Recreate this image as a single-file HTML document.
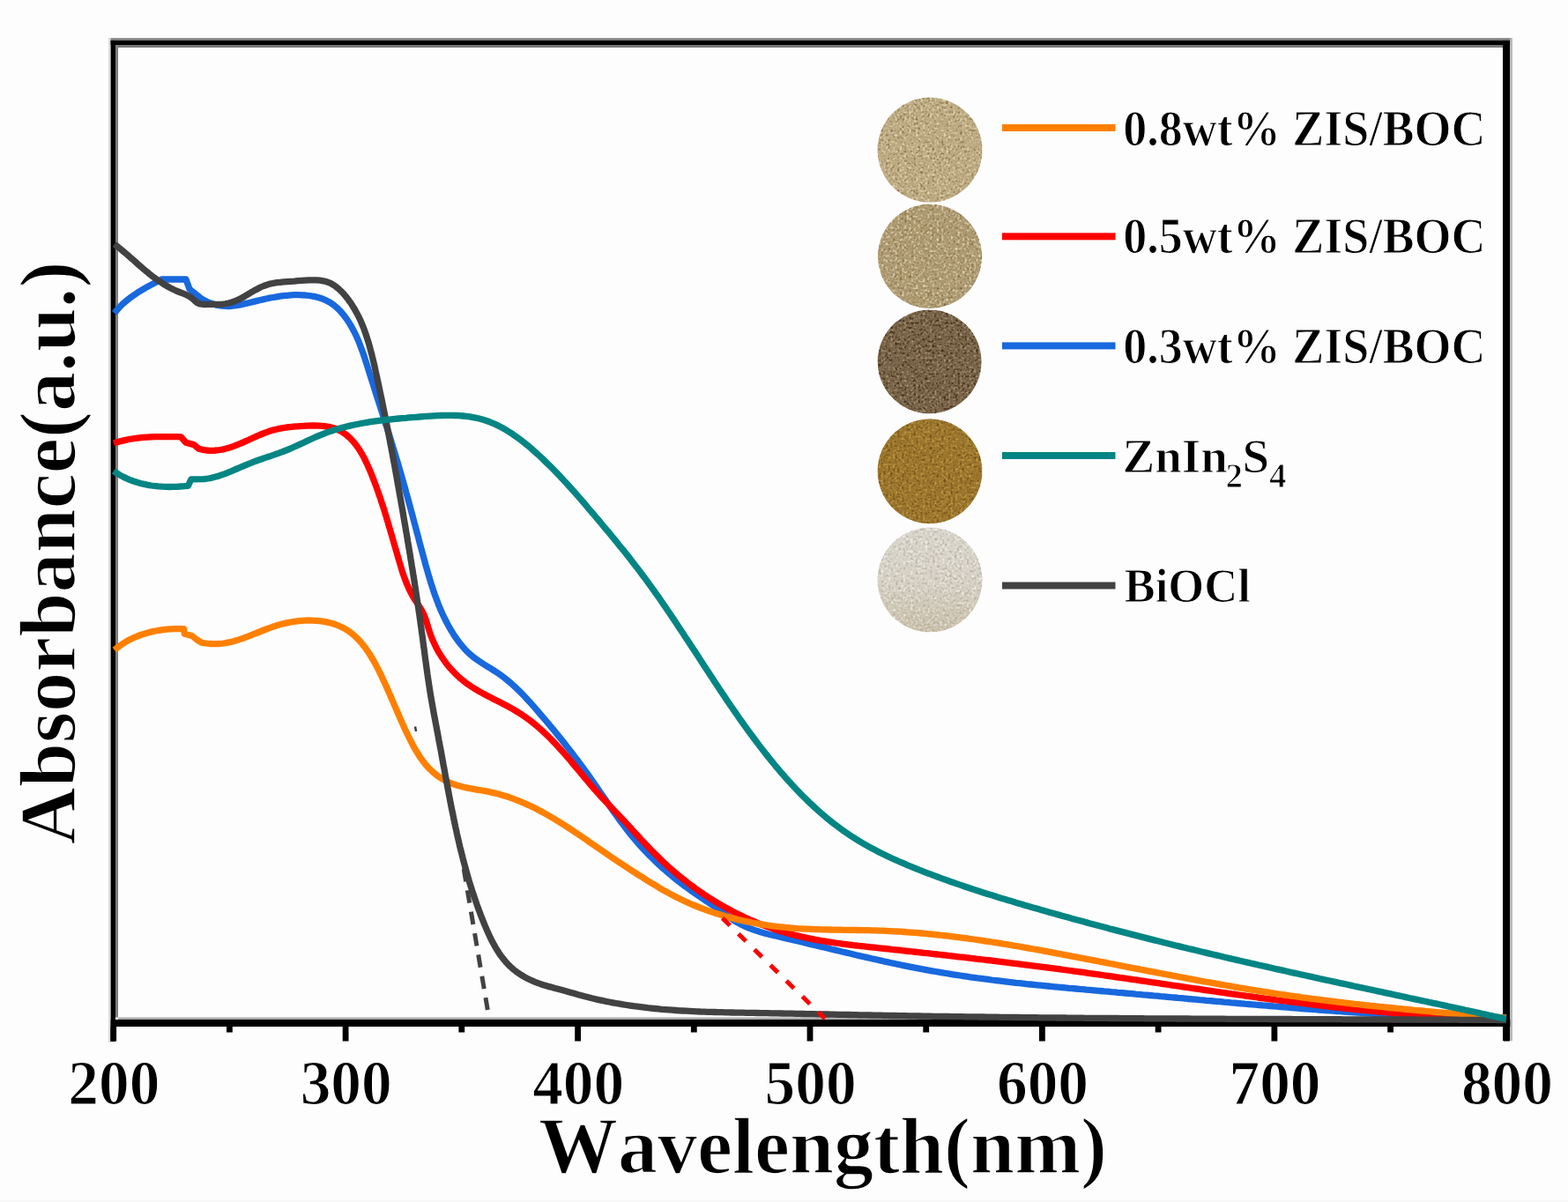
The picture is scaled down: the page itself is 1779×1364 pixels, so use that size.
<!DOCTYPE html>
<html><head><meta charset="utf-8"><title>Absorbance spectra</title>
<style>
html,body{margin:0;padding:0;background:#fdfdfd;}
body{width:1779px;height:1364px;overflow:hidden;}
svg{display:block;}
text{font-family:"Liberation Serif","Times New Roman",serif;font-weight:bold;fill:#000;font-kerning:none;stroke:#fdfdfd;paint-order:fill;}
.t1{stroke-width:1.6px;} .t2{stroke-width:1.1px;} .t3{stroke-width:1.2px;}
</style></head><body>
<svg xmlns="http://www.w3.org/2000/svg" width="1779" height="1364" viewBox="0 0 1779 1364">
<defs>
<filter id="spk1" x="0" y="0" width="100%" height="100%" color-interpolation-filters="sRGB">
<feTurbulence type="fractalNoise" baseFrequency="0.38" numOctaves="1" seed="7" result="t"/>
<feColorMatrix in="t" type="matrix" values="0 0 0 0 0.5  0 0 0 0 0.4  0 0 0 0 0.22  3.0 0 0 0 -1.5" result="dk"/>
<feColorMatrix in="t" type="matrix" values="0 0 0 0 0.93  0 0 0 0 0.88  0 0 0 0 0.76  0 -3.0 0 0 1.5" result="lt"/>
<feMerge result="m"><feMergeNode in="SourceGraphic"/><feMergeNode in="dk"/><feMergeNode in="lt"/></feMerge>
<feComposite in="m" in2="SourceAlpha" operator="in"/>
</filter>
<filter id="spk2" x="0" y="0" width="100%" height="100%" color-interpolation-filters="sRGB">
<feTurbulence type="fractalNoise" baseFrequency="0.38" numOctaves="1" seed="11" result="t"/>
<feColorMatrix in="t" type="matrix" values="0 0 0 0 0.22  0 0 0 0 0.15  0 0 0 0 0.08  3.2 0 0 0 -1.55" result="dk"/>
<feColorMatrix in="t" type="matrix" values="0 0 0 0 0.7  0 0 0 0 0.62  0 0 0 0 0.48  0 -3.2 0 0 1.55" result="lt"/>
<feMerge result="m"><feMergeNode in="SourceGraphic"/><feMergeNode in="dk"/><feMergeNode in="lt"/></feMerge>
<feComposite in="m" in2="SourceAlpha" operator="in"/>
</filter>
<filter id="spk4" x="0" y="0" width="100%" height="100%" color-interpolation-filters="sRGB">
<feTurbulence type="fractalNoise" baseFrequency="0.38" numOctaves="1" seed="13" result="t"/>
<feColorMatrix in="t" type="matrix" values="0 0 0 0 0.4  0 0 0 0 0.27  0 0 0 0 0.06  3.0 0 0 0 -1.5" result="dk"/>
<feColorMatrix in="t" type="matrix" values="0 0 0 0 0.8  0 0 0 0 0.63  0 0 0 0 0.3  0 -3.0 0 0 1.5" result="lt"/>
<feMerge result="m"><feMergeNode in="SourceGraphic"/><feMergeNode in="dk"/><feMergeNode in="lt"/></feMerge>
<feComposite in="m" in2="SourceAlpha" operator="in"/>
</filter>
<filter id="spk3" x="0" y="0" width="100%" height="100%" color-interpolation-filters="sRGB">
<feTurbulence type="fractalNoise" baseFrequency="0.36" numOctaves="1" seed="5" result="t"/>
<feColorMatrix in="t" type="matrix" values="0 0 0 0 0.62  0 0 0 0 0.58  0 0 0 0 0.5  2.0 0 0 0 -1.0" result="dk"/>
<feColorMatrix in="t" type="matrix" values="0 0 0 0 1  0 0 0 0 1  0 0 0 0 0.98  0 -2.2 0 0 1.08" result="lt"/>
<feMerge result="m"><feMergeNode in="SourceGraphic"/><feMergeNode in="dk"/><feMergeNode in="lt"/></feMerge>
<feComposite in="m" in2="SourceAlpha" operator="in"/>
</filter>
<linearGradient id="boclg" x1="0" y1="0" x2="0" y2="1">
<stop offset="0" stop-color="#d9d6cd"/><stop offset="0.55" stop-color="#d6d1c5"/><stop offset="1" stop-color="#c9bfa9"/>
</linearGradient>
</defs>
<rect x="0" y="0" width="1779" height="1364" fill="#fdfdfd"/>
<rect x="0" y="1362" width="1779" height="2" fill="#f8f8f8"/>

<circle cx="1055" cy="170.2" r="59.6" fill="#bdab83" filter="url(#spk1)"/>
<circle cx="1055" cy="290.8" r="59.2" fill="#ad9a72" filter="url(#spk1)"/>
<circle cx="1054.6" cy="410.4" r="59" fill="#7a654a" filter="url(#spk2)"/>
<circle cx="1055" cy="534.7" r="59.5" fill="#9a762d" filter="url(#spk4)"/>
<circle cx="1055" cy="658" r="59.6" fill="url(#boclg)" filter="url(#spk3)"/>
<rect x="125.6" y="45.9" width="1583" height="1115" fill="none" stroke="none"/>
<rect x="123" y="43.2" width="1593" height="2.7" fill="#808080"/>
<rect x="122.9" y="43.2" width="2.7" height="1140" fill="#dedede"/>
<rect x="125.6" y="45.9" width="1587.7" height="5.1" fill="#000"/>
<rect x="131" y="51" width="1574" height="3" fill="#777"/>
<rect x="125.6" y="45.9" width="5.4" height="1136" fill="#000"/>
<rect x="131" y="51" width="3" height="1103.5" fill="#808080"/>
<rect x="1705" y="45.9" width="8.3" height="1135" fill="#000"/>
<rect x="1713.3" y="43.2" width="2.7" height="1138" fill="#bbb"/>
<rect x="134" y="1154.5" width="1571" height="2.5" fill="#aaa"/>
<rect x="125.6" y="1157" width="1587.7" height="8" fill="#000"/>
<rect x="125.3" y="1165" width="6.8" height="16.5" fill="#000"/>
<rect x="257.0" y="1165" width="6.8" height="6.5" fill="#000"/>
<rect x="388.7" y="1165" width="6.8" height="16.5" fill="#000"/>
<rect x="520.4" y="1165" width="6.8" height="6.5" fill="#000"/>
<rect x="652.2" y="1165" width="6.8" height="16.5" fill="#000"/>
<rect x="783.9" y="1165" width="6.8" height="6.5" fill="#000"/>
<rect x="915.6" y="1165" width="6.8" height="16.5" fill="#000"/>
<rect x="1047.3" y="1165" width="6.8" height="6.5" fill="#000"/>
<rect x="1179.0" y="1165" width="6.8" height="16.5" fill="#000"/>
<rect x="1310.7" y="1165" width="6.8" height="6.5" fill="#000"/>
<rect x="1442.5" y="1165" width="6.8" height="16.5" fill="#000"/>
<rect x="1574.2" y="1165" width="6.8" height="6.5" fill="#000"/>
<rect x="1705.9" y="1165" width="6.8" height="16.5" fill="#000"/>
<path d="M129.8,355.3 L132.7,351.8 L135.7,348.5 L138.8,345.3 L142.1,342.4 L145.5,339.6 L149.0,336.9 L152.6,334.4 L156.3,331.9 L160.1,329.6 L163.9,327.4 L167.7,325.2 L171.6,323.1 L175.6,321.0 L179.5,319.0 L183.5,317.0 L211.0,317.0 L215.0,328.0 L229.0,339.3 L232.8,341.4 L236.6,343.2 L240.5,344.6 L244.3,345.8 L248.2,346.6 L252.1,347.2 L256.0,347.4 L259.9,347.5 L263.7,347.2 L267.6,346.7 L271.4,346.1 L275.3,345.3 L279.1,344.4 L282.9,343.5 L286.7,342.6 L290.6,341.6 L294.4,340.7 L298.2,339.9 L302.0,339.0 L305.9,338.2 L309.8,337.5 L313.8,336.8 L317.7,336.2 L321.7,335.7 L325.8,335.3 L329.9,334.9 L334.1,334.7 L338.3,334.7 L342.5,334.8 L346.6,335.0 L350.7,335.5 L354.8,336.1 L358.8,336.9 L362.6,338.0 L366.4,339.3 L370.0,340.9 L373.5,342.7 L376.8,344.8 L379.9,347.1 L382.8,349.7 L385.6,352.5 L388.3,355.5 L390.8,358.6 L393.1,361.8 L395.3,365.1 L397.4,368.4 L399.4,371.9 L401.3,375.4 L403.1,378.9 L404.8,382.6 L406.4,386.2 L407.9,389.9 L409.3,393.7 L410.7,397.4 L412.1,401.2 L413.4,405.0 L414.6,408.9 L415.9,412.7 L417.1,416.6 L418.3,420.5 L419.5,424.3 L420.7,428.2 L421.9,432.0 L423.2,435.9 L424.4,439.7 L425.6,443.6 L426.8,447.4 L428.1,451.2 L429.3,455.1 L430.5,458.9 L431.7,462.7 L433.0,466.5 L434.2,470.4 L435.4,474.2 L436.6,478.0 L437.8,481.8 L439.1,485.6 L440.3,489.4 L441.5,493.2 L442.7,497.1 L443.9,500.9 L445.0,504.7 L446.2,508.5 L447.4,512.3 L448.6,516.2 L449.7,520.0 L450.9,523.8 L452.0,527.6 L453.1,531.5 L454.2,535.3 L455.3,539.1 L456.4,543.0 L457.5,546.8 L458.6,550.7 L459.7,554.5 L460.7,558.4 L461.8,562.2 L462.9,566.1 L463.9,570.0 L464.9,573.8 L466.0,577.7 L467.0,581.6 L468.1,585.4 L469.1,589.3 L470.1,593.2 L471.2,597.1 L472.2,601.0 L473.2,604.8 L474.3,608.7 L475.3,612.6 L476.3,616.5 L477.4,620.4 L478.4,624.3 L479.5,628.2 L480.5,632.1 L481.6,636.0 L482.6,639.9 L483.7,643.8 L484.8,647.6 L485.9,651.5 L487.1,655.4 L488.2,659.2 L489.4,663.1 L490.7,666.9 L491.9,670.7 L493.2,674.5 L494.6,678.3 L496.0,682.1 L497.4,685.8 L498.9,689.5 L500.5,693.2 L502.1,696.8 L503.8,700.4 L505.6,704.0 L507.4,707.5 L509.3,711.0 L511.3,714.5 L513.4,717.9 L515.5,721.3 L517.8,724.6 L520.1,727.8 L522.5,730.9 L525.1,734.0 L527.7,737.0 L530.5,739.8 L533.4,742.5 L536.4,745.1 L539.6,747.5 L542.9,749.8 L546.2,752.0 L549.6,754.2 L553.0,756.3 L556.5,758.4 L559.9,760.6 L563.3,762.8 L566.6,765.0 L569.9,767.4 L573.1,769.8 L576.2,772.3 L579.3,774.9 L582.2,777.6 L585.2,780.3 L588.1,783.1 L590.9,785.9 L593.7,788.8 L596.5,791.7 L599.2,794.7 L601.9,797.6 L604.6,800.7 L607.2,803.7 L609.9,806.7 L612.5,809.8 L615.1,812.8 L617.7,815.9 L620.3,819.0 L622.9,822.0 L625.4,825.1 L628.0,828.2 L630.5,831.3 L633.1,834.4 L635.6,837.5 L638.1,840.6 L640.6,843.8 L643.0,846.9 L645.5,850.1 L648.0,853.2 L650.4,856.4 L652.8,859.6 L655.2,862.8 L657.6,866.0 L660.0,869.2 L662.4,872.5 L664.7,875.7 L667.1,879.0 L669.4,882.2 L671.7,885.5 L674.0,888.8 L676.3,892.1 L678.6,895.4 L680.8,898.8 L683.1,902.1 L685.4,905.4 L687.7,908.7 L689.9,912.0 L692.2,915.3 L694.5,918.6 L696.8,921.9 L699.2,925.2 L701.5,928.5 L703.9,931.7 L706.3,934.9 L708.7,938.1 L711.1,941.3 L713.6,944.5 L716.1,947.6 L718.7,950.7 L721.2,953.7 L723.9,956.8 L726.5,959.8 L729.2,962.7 L732.0,965.6 L734.7,968.5 L737.5,971.4 L740.4,974.2 L743.3,977.0 L746.2,979.8 L749.1,982.5 L752.1,985.2 L755.1,987.8 L758.1,990.4 L761.2,993.0 L764.3,995.6 L767.4,998.1 L770.5,1000.6 L773.7,1003.0 L776.9,1005.5 L780.2,1007.8 L783.4,1010.2 L786.7,1012.5 L790.0,1014.8 L793.3,1017.1 L796.6,1019.3 L799.9,1021.6 L803.3,1023.8 L806.6,1026.1 L809.9,1028.3 L813.2,1030.6 L816.5,1033.0 L819.7,1035.3 L822.9,1037.7 L826.2,1040.0 L829.4,1042.3 L832.8,1044.5 L836.2,1046.5 L839.6,1048.4 L843.2,1050.2 L846.8,1051.9 L850.4,1053.4 L854.2,1054.8 L857.9,1056.1 L861.7,1057.3 L865.5,1058.4 L869.4,1059.5 L873.3,1060.5 L877.2,1061.4 L881.1,1062.3 L885.0,1063.2 L889.0,1064.2 L892.9,1065.1 L896.8,1066.0 L900.7,1066.9 L904.7,1067.8 L908.6,1068.8 L912.5,1069.7 L916.4,1070.6 L920.3,1071.6 L924.2,1072.5 L928.2,1073.4 L932.1,1074.4 L936.0,1075.3 L939.9,1076.2 L943.8,1077.2 L947.7,1078.1 L951.6,1079.0 L955.5,1080.0 L959.5,1080.9 L963.4,1081.8 L967.3,1082.7 L971.2,1083.7 L975.1,1084.6 L979.0,1085.5 L982.9,1086.4 L986.9,1087.3 L990.8,1088.2 L994.7,1089.0 L998.6,1089.9 L1002.5,1090.8 L1006.4,1091.6 L1010.4,1092.5 L1014.3,1093.3 L1018.2,1094.2 L1022.1,1095.0 L1026.1,1095.8 L1030.0,1096.6 L1033.9,1097.4 L1037.8,1098.2 L1041.8,1098.9 L1045.7,1099.7 L1049.6,1100.4 L1053.6,1101.1 L1057.5,1101.8 L1061.5,1102.5 L1065.4,1103.2 L1069.4,1103.9 L1073.3,1104.5 L1077.3,1105.2 L1081.2,1105.8 L1085.2,1106.4 L1089.2,1107.0 L1093.1,1107.6 L1097.1,1108.2 L1101.0,1108.8 L1105.0,1109.3 L1109.0,1109.9 L1113.0,1110.4 L1116.9,1110.9 L1120.9,1111.4 L1124.9,1112.0 L1128.9,1112.5 L1132.8,1112.9 L1136.8,1113.4 L1140.8,1113.9 L1144.8,1114.4 L1148.8,1114.8 L1152.8,1115.3 L1156.7,1115.7 L1160.7,1116.1 L1164.7,1116.6 L1168.7,1117.0 L1172.7,1117.4 L1176.7,1117.8 L1180.7,1118.2 L1184.7,1118.6 L1188.7,1119.0 L1192.7,1119.4 L1196.7,1119.8 L1200.7,1120.2 L1204.7,1120.5 L1208.7,1120.9 L1212.7,1121.3 L1216.7,1121.6 L1220.7,1122.0 L1224.7,1122.4 L1228.7,1122.7 L1232.7,1123.1 L1236.7,1123.4 L1240.7,1123.8 L1244.7,1124.2 L1248.7,1124.5 L1252.7,1124.9 L1256.7,1125.2 L1260.7,1125.6 L1264.7,1125.9 L1268.7,1126.3 L1272.7,1126.6 L1276.7,1127.0 L1280.7,1127.3 L1284.7,1127.7 L1288.7,1128.1 L1292.7,1128.4 L1296.7,1128.8 L1300.7,1129.1 L1304.7,1129.5 L1308.7,1129.9 L1312.7,1130.2 L1316.7,1130.6 L1320.7,1130.9 L1324.7,1131.3 L1328.7,1131.7 L1332.7,1132.0 L1336.7,1132.4 L1340.7,1132.7 L1344.7,1133.1 L1348.7,1133.5 L1352.7,1133.8 L1356.7,1134.2 L1360.7,1134.6 L1364.7,1134.9 L1368.7,1135.3 L1372.7,1135.6 L1376.7,1136.0 L1380.7,1136.3 L1384.7,1136.7 L1388.7,1137.1 L1392.7,1137.4 L1396.7,1137.8 L1400.7,1138.1 L1404.7,1138.5 L1408.7,1138.8 L1412.7,1139.2 L1416.6,1139.5 L1420.6,1139.8 L1424.6,1140.2 L1428.6,1140.5 L1432.6,1140.9 L1436.6,1141.2 L1440.6,1141.5 L1444.6,1141.9 L1448.6,1142.2 L1452.6,1142.5 L1456.6,1142.9 L1460.6,1143.2 L1464.6,1143.5 L1468.6,1143.8 L1472.6,1144.2 L1476.6,1144.5 L1480.6,1144.8 L1484.6,1145.1 L1488.6,1145.4 L1492.6,1145.7 L1496.6,1146.0 L1500.6,1146.3 L1504.6,1146.6 L1508.6,1146.9 L1512.6,1147.2 L1516.6,1147.5 L1520.6,1147.7 L1524.6,1148.0 L1528.6,1148.3 L1532.6,1148.6 L1536.6,1148.8 L1540.6,1149.1 L1544.6,1149.4 L1548.6,1149.6 L1552.6,1149.9 L1556.6,1150.1 L1560.6,1150.4 L1564.6,1150.6 L1568.6,1150.9 L1572.7,1151.1 L1576.7,1151.3 L1580.7,1151.5 L1584.7,1151.8 L1588.7,1152.0 L1592.7,1152.2 L1596.7,1152.4 L1600.7,1152.6 L1604.7,1152.8 L1608.7,1153.0 L1612.7,1153.2 L1616.7,1153.4 L1620.7,1153.5 L1624.7,1153.7 L1628.7,1153.9 L1632.7,1154.0 L1636.8,1154.2 L1640.8,1154.3 L1644.8,1154.5 L1648.8,1154.6 L1652.8,1154.8 L1656.8,1154.9 L1660.8,1155.0 L1664.8,1155.1 L1668.8,1155.2 L1672.9,1155.3 L1676.9,1155.4 L1680.9,1155.5 L1684.9,1155.6 L1688.9,1155.7 L1692.9,1155.8 L1696.9,1155.8 L1701.0,1155.9 L1705.0,1156.0 L1709.0,1156.0" fill="none" stroke="#1868de" stroke-width="7.3" stroke-linejoin="round" stroke-linecap="butt"/>
<path d="M128.9,503.1 L133.0,501.8 L137.1,500.6 L141.3,499.6 L145.4,498.7 L149.7,498.0 L153.9,497.3 L158.1,496.8 L162.4,496.4 L166.7,496.1 L171.0,495.9 L175.3,495.7 L179.5,495.6 L183.8,495.6 L188.1,495.6 L192.4,495.6 L196.7,495.7 L201.0,495.7 L205.2,495.8 L211.0,502.3 L219.9,504.6 L225.7,509.3 L229.8,510.3 L233.9,511.0 L237.9,511.3 L241.9,511.3 L245.8,511.0 L249.7,510.5 L253.6,509.8 L257.4,508.8 L261.2,507.7 L265.0,506.4 L268.7,504.9 L272.5,503.4 L276.2,501.8 L279.9,500.2 L283.6,498.5 L287.3,496.8 L291.0,495.1 L294.7,493.5 L298.4,492.0 L302.1,490.6 L305.8,489.3 L309.6,488.1 L313.4,487.2 L317.2,486.3 L321.0,485.6 L324.9,485.0 L328.8,484.6 L332.8,484.2 L336.8,483.8 L340.8,483.6 L345.0,483.3 L349.2,483.1 L353.4,483.0 L357.6,483.0 L361.8,483.1 L365.9,483.4 L370.0,483.9 L373.9,484.6 L377.7,485.5 L381.4,486.8 L384.8,488.3 L388.1,490.1 L391.2,492.2 L394.2,494.5 L397.0,497.0 L399.7,499.8 L402.2,502.7 L404.6,505.8 L406.9,509.1 L409.1,512.5 L411.1,516.0 L413.1,519.6 L414.9,523.4 L416.7,527.1 L418.4,531.0 L420.1,534.8 L421.7,538.7 L423.2,542.6 L424.7,546.5 L426.1,550.3 L427.5,554.1 L428.9,557.9 L430.2,561.7 L431.5,565.4 L432.7,569.2 L434.0,573.0 L435.2,576.7 L436.4,580.4 L437.5,584.2 L438.7,587.9 L439.8,591.7 L440.9,595.4 L442.0,599.2 L443.1,603.0 L444.2,606.7 L445.3,610.5 L446.4,614.4 L447.5,618.2 L448.6,622.1 L449.8,625.9 L450.9,629.9 L452.0,633.8 L453.2,637.8 L454.4,641.7 L455.6,645.7 L456.8,649.6 L458.1,653.4 L459.5,657.2 L460.9,661.0 L462.4,664.6 L464.0,668.2 L465.7,671.7 L467.5,675.2 L469.5,678.5 L471.6,681.8 L473.8,685.1 L475.9,688.4 L477.9,691.7 L479.8,695.1 L481.4,698.6 L482.8,702.3 L484.1,706.1 L485.2,709.9 L486.4,713.8 L487.6,717.6 L488.9,721.4 L490.4,725.2 L492.0,728.8 L493.7,732.4 L495.5,736.0 L497.4,739.5 L499.5,742.9 L501.6,746.2 L503.9,749.5 L506.2,752.7 L508.7,755.8 L511.3,758.8 L514.0,761.7 L516.7,764.6 L519.6,767.3 L522.6,770.0 L525.6,772.5 L528.7,774.9 L532.0,777.2 L535.3,779.5 L538.7,781.6 L542.1,783.7 L545.6,785.6 L549.1,787.6 L552.7,789.5 L556.3,791.3 L559.9,793.2 L563.5,795.0 L567.1,796.8 L570.7,798.7 L574.3,800.6 L577.9,802.5 L581.4,804.4 L584.9,806.5 L588.3,808.6 L591.7,810.7 L595.0,813.0 L598.3,815.3 L601.5,817.7 L604.6,820.2 L607.7,822.7 L610.8,825.3 L613.8,827.9 L616.7,830.6 L619.6,833.4 L622.5,836.2 L625.3,839.0 L628.1,841.9 L630.9,844.8 L633.6,847.7 L636.3,850.7 L638.9,853.6 L641.6,856.6 L644.2,859.7 L646.8,862.7 L649.4,865.8 L651.9,868.8 L654.5,871.9 L657.1,875.0 L659.6,878.0 L662.2,881.1 L664.7,884.2 L667.3,887.2 L669.9,890.3 L672.5,893.3 L675.1,896.4 L677.8,899.4 L680.4,902.3 L683.1,905.3 L685.9,908.2 L688.6,911.1 L691.4,914.1 L694.1,916.9 L696.9,919.8 L699.7,922.7 L702.5,925.6 L705.2,928.5 L708.0,931.4 L710.7,934.4 L713.4,937.3 L716.1,940.3 L718.8,943.2 L721.5,946.2 L724.2,949.1 L726.9,952.1 L729.6,955.0 L732.4,957.9 L735.1,960.8 L737.9,963.7 L740.7,966.6 L743.5,969.4 L746.3,972.2 L749.2,975.0 L752.1,977.8 L755.0,980.5 L758.0,983.2 L761.0,985.9 L764.0,988.5 L767.1,991.1 L770.2,993.7 L773.3,996.2 L776.5,998.7 L779.6,1001.2 L782.8,1003.6 L786.1,1006.0 L789.3,1008.4 L792.6,1010.7 L795.9,1013.0 L799.2,1015.2 L802.6,1017.5 L806.0,1019.6 L809.4,1021.8 L812.8,1023.9 L816.2,1025.9 L819.7,1027.9 L823.2,1029.9 L826.7,1031.8 L830.3,1033.7 L833.8,1035.6 L837.4,1037.4 L841.0,1039.1 L844.6,1040.9 L848.3,1042.5 L851.9,1044.2 L855.6,1045.7 L859.3,1047.3 L863.0,1048.8 L866.7,1050.2 L870.5,1051.6 L874.2,1052.9 L878.0,1054.2 L881.8,1055.5 L885.6,1056.7 L889.4,1057.8 L893.2,1058.9 L897.1,1060.0 L900.9,1061.0 L904.8,1061.9 L908.7,1062.8 L912.6,1063.7 L916.5,1064.5 L920.4,1065.3 L924.3,1066.1 L928.3,1066.8 L932.2,1067.5 L936.2,1068.1 L940.1,1068.8 L944.1,1069.4 L948.0,1070.0 L952.0,1070.5 L956.0,1071.1 L960.0,1071.6 L964.0,1072.1 L968.0,1072.6 L972.0,1073.0 L976.0,1073.5 L980.0,1073.9 L984.0,1074.4 L988.0,1074.8 L992.0,1075.2 L996.0,1075.7 L1000.0,1076.1 L1004.0,1076.5 L1008.0,1076.9 L1012.0,1077.4 L1016.0,1077.8 L1020.0,1078.2 L1024.0,1078.7 L1028.0,1079.1 L1032.0,1079.5 L1036.0,1080.0 L1040.0,1080.4 L1044.0,1080.8 L1048.0,1081.3 L1052.0,1081.7 L1056.0,1082.2 L1059.9,1082.6 L1063.9,1083.0 L1067.9,1083.5 L1071.9,1083.9 L1075.9,1084.4 L1079.9,1084.8 L1083.9,1085.3 L1087.9,1085.8 L1091.8,1086.2 L1095.8,1086.7 L1099.8,1087.1 L1103.8,1087.6 L1107.8,1088.1 L1111.7,1088.5 L1115.7,1089.0 L1119.7,1089.5 L1123.7,1089.9 L1127.7,1090.4 L1131.6,1090.9 L1135.6,1091.4 L1139.6,1091.9 L1143.6,1092.3 L1147.5,1092.8 L1151.5,1093.3 L1155.5,1093.8 L1159.5,1094.3 L1163.4,1094.8 L1167.4,1095.3 L1171.4,1095.8 L1175.3,1096.3 L1179.3,1096.8 L1183.3,1097.3 L1187.3,1097.9 L1191.2,1098.4 L1195.2,1098.9 L1199.2,1099.4 L1203.1,1099.9 L1207.1,1100.5 L1211.1,1101.0 L1215.0,1101.5 L1219.0,1102.1 L1223.0,1102.6 L1227.0,1103.2 L1230.9,1103.7 L1234.9,1104.3 L1238.9,1104.8 L1242.8,1105.4 L1246.8,1105.9 L1250.8,1106.5 L1254.7,1107.1 L1258.7,1107.6 L1262.7,1108.2 L1266.6,1108.8 L1270.6,1109.4 L1274.6,1109.9 L1278.6,1110.5 L1282.5,1111.1 L1286.5,1111.7 L1290.5,1112.2 L1294.4,1112.8 L1298.4,1113.4 L1302.4,1114.0 L1306.3,1114.6 L1310.3,1115.1 L1314.3,1115.7 L1318.2,1116.3 L1322.2,1116.9 L1326.2,1117.5 L1330.1,1118.1 L1334.1,1118.6 L1338.1,1119.2 L1342.1,1119.8 L1346.0,1120.4 L1350.0,1121.0 L1354.0,1121.6 L1357.9,1122.1 L1361.9,1122.7 L1365.9,1123.3 L1369.8,1123.9 L1373.8,1124.4 L1377.8,1125.0 L1381.8,1125.6 L1385.7,1126.2 L1389.7,1126.7 L1393.7,1127.3 L1397.6,1127.9 L1401.6,1128.4 L1405.6,1129.0 L1409.6,1129.5 L1413.5,1130.1 L1417.5,1130.6 L1421.5,1131.2 L1425.5,1131.7 L1429.4,1132.3 L1433.4,1132.8 L1437.4,1133.4 L1441.4,1133.9 L1445.3,1134.4 L1449.3,1135.0 L1453.3,1135.5 L1457.3,1136.0 L1461.2,1136.5 L1465.2,1137.0 L1469.2,1137.5 L1473.2,1138.0 L1477.2,1138.5 L1481.1,1139.0 L1485.1,1139.5 L1489.1,1140.0 L1493.1,1140.5 L1497.1,1140.9 L1501.0,1141.4 L1505.0,1141.9 L1509.0,1142.3 L1513.0,1142.8 L1517.0,1143.2 L1521.0,1143.7 L1524.9,1144.1 L1528.9,1144.5 L1532.9,1144.9 L1536.9,1145.4 L1540.9,1145.8 L1544.9,1146.2 L1548.9,1146.6 L1552.9,1146.9 L1556.8,1147.3 L1560.8,1147.7 L1564.8,1148.1 L1568.8,1148.4 L1572.8,1148.8 L1576.8,1149.1 L1580.8,1149.5 L1584.8,1149.8 L1588.8,1150.1 L1592.8,1150.4 L1596.8,1150.7 L1600.8,1151.0 L1604.8,1151.3 L1608.8,1151.6 L1612.8,1151.9 L1616.8,1152.1 L1620.8,1152.4 L1624.8,1152.6 L1628.8,1152.9 L1632.8,1153.1 L1636.8,1153.3 L1640.8,1153.5 L1644.8,1153.7 L1648.8,1153.9 L1652.8,1154.1 L1656.8,1154.3 L1660.8,1154.4 L1664.8,1154.6 L1668.8,1154.7 L1672.9,1154.8 L1676.9,1155.0 L1680.9,1155.1 L1684.9,1155.2 L1688.9,1155.2 L1692.9,1155.3 L1696.9,1155.4 L1701.0,1155.4 L1705.0,1155.5 L1709.0,1155.5" fill="none" stroke="#ff0000" stroke-width="7.3" stroke-linejoin="round" stroke-linecap="butt"/>
<path d="M129.8,737.6 L133.2,734.8 L136.7,732.2 L140.3,729.8 L144.0,727.6 L147.8,725.6 L151.7,723.7 L155.7,722.0 L159.7,720.5 L163.8,719.2 L167.9,718.0 L172.1,716.9 L176.3,716.0 L180.6,715.3 L184.9,714.7 L189.2,714.2 L193.5,713.9 L197.8,713.7 L202.2,713.6 L206.5,713.6 L208.5,713.6 L209.3,719.2 L217.8,721.5 L223.4,726.0 L229.0,729.3 L233.3,730.0 L237.5,730.5 L241.6,730.7 L245.6,730.7 L249.6,730.5 L253.5,730.0 L257.3,729.4 L261.2,728.6 L264.9,727.7 L268.7,726.6 L272.4,725.4 L276.1,724.2 L279.7,722.8 L283.4,721.4 L287.1,719.9 L290.8,718.5 L294.5,717.0 L298.2,715.5 L302.0,714.0 L305.7,712.6 L309.6,711.3 L313.4,710.0 L317.4,708.8 L321.3,707.8 L325.4,706.9 L329.5,706.0 L333.6,705.4 L337.7,704.8 L341.8,704.4 L346.0,704.1 L350.1,704.0 L354.2,704.1 L358.3,704.3 L362.3,704.6 L366.3,705.2 L370.2,705.9 L374.1,706.7 L377.9,707.8 L381.6,709.0 L385.2,710.5 L388.7,712.1 L392.0,713.9 L395.3,716.0 L398.4,718.2 L401.4,720.7 L404.2,723.3 L407.0,726.1 L409.6,729.0 L412.1,732.1 L414.6,735.3 L416.9,738.6 L419.2,742.0 L421.3,745.5 L423.4,749.0 L425.4,752.6 L427.4,756.3 L429.3,759.9 L431.1,763.6 L432.9,767.3 L434.6,771.0 L436.3,774.7 L438.0,778.3 L439.6,782.0 L441.2,785.6 L442.8,789.3 L444.4,792.9 L446.0,796.6 L447.5,800.2 L449.1,803.8 L450.7,807.4 L452.2,811.1 L453.8,814.7 L455.4,818.4 L457.1,822.0 L458.7,825.7 L460.4,829.4 L462.2,833.1 L463.9,836.7 L465.8,840.4 L467.7,844.1 L469.6,847.7 L471.6,851.3 L473.8,854.8 L476.0,858.3 L478.3,861.6 L480.7,864.8 L483.2,868.0 L485.8,870.9 L488.6,873.7 L491.5,876.4 L494.5,878.9 L497.6,881.2 L500.9,883.3 L504.3,885.2 L507.7,887.0 L511.3,888.6 L515.0,890.0 L518.8,891.2 L522.6,892.3 L526.5,893.2 L530.5,894.1 L534.4,894.8 L538.5,895.6 L542.5,896.3 L546.5,897.0 L550.6,897.7 L554.6,898.5 L558.6,899.4 L562.5,900.3 L566.4,901.3 L570.3,902.4 L574.1,903.6 L577.9,904.8 L581.7,906.2 L585.4,907.6 L589.2,909.0 L592.8,910.6 L596.5,912.2 L600.1,913.8 L603.7,915.5 L607.3,917.3 L610.8,919.1 L614.3,921.0 L617.8,922.9 L621.3,924.9 L624.8,926.9 L628.3,928.9 L631.7,931.0 L635.1,933.1 L638.5,935.3 L641.9,937.4 L645.3,939.6 L648.7,941.8 L652.0,944.1 L655.4,946.3 L658.7,948.6 L662.0,950.8 L665.3,953.1 L668.7,955.4 L672.0,957.7 L675.3,960.0 L678.6,962.3 L681.9,964.5 L685.2,966.8 L688.5,969.1 L691.7,971.3 L695.0,973.5 L698.3,975.8 L701.6,978.0 L704.9,980.1 L708.2,982.3 L711.5,984.5 L714.8,986.6 L718.1,988.8 L721.5,990.9 L724.8,993.1 L728.2,995.2 L731.6,997.4 L734.9,999.5 L738.3,1001.6 L741.8,1003.7 L745.2,1005.7 L748.6,1007.8 L752.1,1009.8 L755.6,1011.7 L759.1,1013.7 L762.6,1015.6 L766.2,1017.4 L769.8,1019.2 L773.4,1021.0 L777.0,1022.7 L780.6,1024.4 L784.3,1026.0 L788.0,1027.5 L791.7,1029.0 L795.4,1030.5 L799.1,1031.9 L802.9,1033.3 L806.7,1034.6 L810.5,1035.9 L814.3,1037.1 L818.1,1038.3 L822.0,1039.5 L825.8,1040.6 L829.7,1041.6 L833.6,1042.6 L837.5,1043.6 L841.4,1044.5 L845.3,1045.4 L849.3,1046.2 L853.2,1047.0 L857.1,1047.7 L861.1,1048.4 L865.1,1049.1 L869.0,1049.7 L873.0,1050.3 L877.0,1050.9 L881.0,1051.4 L885.0,1051.8 L889.0,1052.2 L893.0,1052.6 L897.0,1053.0 L901.0,1053.3 L905.0,1053.6 L909.0,1053.8 L913.0,1054.1 L917.1,1054.2 L921.1,1054.4 L925.1,1054.6 L929.1,1054.7 L933.1,1054.8 L937.2,1054.9 L941.2,1055.0 L945.2,1055.1 L949.2,1055.2 L953.3,1055.2 L957.3,1055.3 L961.3,1055.3 L965.3,1055.4 L969.4,1055.4 L973.4,1055.5 L977.4,1055.6 L981.4,1055.6 L985.5,1055.7 L989.5,1055.8 L993.5,1055.9 L997.5,1056.1 L1001.5,1056.2 L1005.5,1056.4 L1009.5,1056.6 L1013.6,1056.8 L1017.6,1057.0 L1021.6,1057.2 L1025.6,1057.5 L1029.6,1057.8 L1033.6,1058.1 L1037.6,1058.4 L1041.6,1058.7 L1045.6,1059.0 L1049.6,1059.4 L1053.6,1059.8 L1057.6,1060.2 L1061.5,1060.6 L1065.5,1061.0 L1069.5,1061.5 L1073.5,1061.9 L1077.5,1062.4 L1081.5,1062.9 L1085.5,1063.4 L1089.4,1063.9 L1093.4,1064.4 L1097.4,1064.9 L1101.4,1065.5 L1105.3,1066.0 L1109.3,1066.6 L1113.3,1067.2 L1117.3,1067.8 L1121.2,1068.4 L1125.2,1069.0 L1129.2,1069.6 L1133.1,1070.2 L1137.1,1070.9 L1141.1,1071.5 L1145.0,1072.2 L1149.0,1072.8 L1152.9,1073.5 L1156.9,1074.2 L1160.9,1074.9 L1164.8,1075.6 L1168.8,1076.3 L1172.7,1077.0 L1176.7,1077.7 L1180.6,1078.4 L1184.6,1079.1 L1188.5,1079.9 L1192.5,1080.6 L1196.5,1081.3 L1200.4,1082.1 L1204.4,1082.8 L1208.3,1083.6 L1212.3,1084.3 L1216.2,1085.1 L1220.2,1085.8 L1224.1,1086.6 L1228.0,1087.3 L1232.0,1088.1 L1235.9,1088.9 L1239.9,1089.6 L1243.8,1090.4 L1247.8,1091.1 L1251.7,1091.9 L1255.7,1092.7 L1259.6,1093.5 L1263.6,1094.2 L1267.5,1095.0 L1271.4,1095.8 L1275.4,1096.5 L1279.3,1097.3 L1283.3,1098.1 L1287.2,1098.8 L1291.2,1099.6 L1295.1,1100.4 L1299.1,1101.1 L1303.0,1101.9 L1306.9,1102.7 L1310.9,1103.4 L1314.8,1104.2 L1318.8,1104.9 L1322.7,1105.7 L1326.7,1106.4 L1330.6,1107.2 L1334.6,1107.9 L1338.5,1108.7 L1342.5,1109.4 L1346.4,1110.2 L1350.4,1110.9 L1354.3,1111.6 L1358.3,1112.4 L1362.2,1113.1 L1366.2,1113.8 L1370.1,1114.5 L1374.1,1115.2 L1378.0,1115.9 L1382.0,1116.7 L1385.9,1117.4 L1389.9,1118.0 L1393.8,1118.7 L1397.8,1119.4 L1401.7,1120.1 L1405.7,1120.8 L1409.7,1121.4 L1413.6,1122.1 L1417.6,1122.8 L1421.5,1123.4 L1425.5,1124.0 L1429.5,1124.7 L1433.4,1125.3 L1437.4,1125.9 L1441.4,1126.6 L1445.3,1127.2 L1449.3,1127.8 L1453.3,1128.4 L1457.3,1128.9 L1461.2,1129.5 L1465.2,1130.1 L1469.2,1130.7 L1473.2,1131.2 L1477.1,1131.8 L1481.1,1132.3 L1485.1,1132.8 L1489.1,1133.4 L1493.1,1133.9 L1497.1,1134.4 L1501.0,1134.9 L1505.0,1135.4 L1509.0,1135.9 L1513.0,1136.4 L1517.0,1136.9 L1521.0,1137.4 L1525.0,1137.9 L1529.0,1138.3 L1533.0,1138.8 L1537.0,1139.3 L1541.0,1139.7 L1544.9,1140.1 L1548.9,1140.6 L1552.9,1141.0 L1556.9,1141.5 L1560.9,1141.9 L1564.9,1142.3 L1568.9,1142.7 L1572.9,1143.1 L1576.9,1143.5 L1580.9,1143.9 L1584.9,1144.3 L1588.9,1144.7 L1592.9,1145.1 L1596.9,1145.5 L1600.9,1145.9 L1604.9,1146.3 L1608.9,1146.6 L1612.9,1147.0 L1616.9,1147.4 L1620.9,1147.7 L1624.9,1148.1 L1628.9,1148.5 L1633.0,1148.8 L1637.0,1149.2 L1641.0,1149.5 L1645.0,1149.8 L1649.0,1150.2 L1653.0,1150.5 L1657.0,1150.9 L1661.0,1151.2 L1665.0,1151.5 L1669.0,1151.8 L1673.0,1152.2 L1677.0,1152.5 L1681.0,1152.8 L1685.0,1153.1 L1689.0,1153.4 L1693.0,1153.8 L1697.0,1154.1 L1701.0,1154.4 L1705.0,1154.7 L1709.0,1155.0" fill="none" stroke="#ff8000" stroke-width="7.3" stroke-linejoin="round" stroke-linecap="butt"/>
<path d="M129.8,277.1 L133.0,279.5 L136.1,282.0 L139.2,284.6 L142.3,287.2 L145.3,289.8 L148.3,292.5 L151.3,295.1 L154.3,297.8 L157.3,300.5 L160.3,303.1 L163.4,305.7 L166.5,308.3 L169.6,310.9 L172.7,313.3 L175.9,315.7 L179.2,318.1 L182.5,320.3 L185.8,322.5 L189.3,324.5 L192.8,326.5 L196.3,328.3 L199.9,330.0 L203.7,331.5 L207.4,332.9 L211.1,334.4 L214.7,336.2 L217.9,338.4 L220.8,341.1 L223.8,343.6 L227.2,345.0 L231.0,345.5 L235.2,345.4 L239.4,345.3 L243.5,345.4 L247.6,345.4 L251.6,345.3 L255.5,344.8 L259.3,344.0 L263.0,343.0 L266.7,341.6 L270.4,340.0 L274.0,338.2 L277.6,336.2 L281.1,334.1 L284.7,331.9 L288.3,329.8 L291.9,327.9 L295.5,326.0 L299.1,324.5 L302.8,323.2 L306.5,322.1 L310.3,321.3 L314.1,320.7 L317.9,320.3 L321.8,319.9 L325.8,319.6 L329.8,319.3 L333.9,319.1 L338.0,318.7 L342.2,318.4 L346.4,318.1 L350.7,317.8 L354.8,317.8 L358.9,317.9 L363.0,318.2 L366.9,318.8 L370.6,319.8 L374.3,321.1 L377.7,322.9 L380.9,325.1 L384.0,327.6 L386.9,330.3 L389.7,333.2 L392.3,336.3 L394.8,339.5 L397.2,342.8 L399.4,346.1 L401.5,349.5 L403.5,352.9 L405.4,356.4 L407.2,359.9 L408.9,363.5 L410.5,367.2 L412.0,370.8 L413.4,374.6 L414.7,378.3 L416.0,382.1 L417.2,385.9 L418.4,389.7 L419.5,393.6 L420.5,397.5 L421.6,401.4 L422.5,405.3 L423.5,409.2 L424.4,413.1 L425.3,417.1 L426.1,421.0 L427.0,425.0 L427.9,428.9 L428.7,432.9 L429.6,436.8 L430.4,440.8 L431.2,444.7 L432.1,448.7 L432.9,452.6 L433.7,456.5 L434.5,460.5 L435.3,464.4 L436.1,468.3 L436.9,472.3 L437.7,476.2 L438.5,480.2 L439.2,484.1 L440.0,488.0 L440.8,492.0 L441.5,495.9 L442.3,499.8 L443.0,503.8 L443.8,507.7 L444.5,511.6 L445.3,515.6 L446.0,519.5 L446.7,523.4 L447.5,527.4 L448.2,531.3 L448.9,535.2 L449.6,539.2 L450.3,543.1 L451.0,547.0 L451.7,551.0 L452.4,554.9 L453.1,558.8 L453.8,562.8 L454.5,566.7 L455.2,570.7 L455.9,574.6 L456.6,578.5 L457.3,582.5 L457.9,586.4 L458.6,590.4 L459.3,594.3 L460.0,598.3 L460.6,602.2 L461.3,606.2 L462.0,610.1 L462.6,614.1 L463.3,618.0 L464.0,622.0 L464.6,626.0 L465.3,629.9 L465.9,633.9 L466.6,637.8 L467.2,641.8 L467.9,645.8 L468.5,649.7 L469.1,653.7 L469.8,657.7 L470.4,661.6 L471.0,665.6 L471.6,669.6 L472.2,673.5 L472.8,677.5 L473.4,681.5 L474.0,685.5 L474.6,689.4 L475.2,693.4 L475.8,697.4 L476.3,701.3 L476.9,705.3 L477.4,709.3 L478.0,713.2 L478.5,717.2 L479.1,721.2 L479.6,725.1 L480.1,729.1 L480.6,733.1 L481.2,737.0 L481.7,741.0 L482.2,745.0 L482.7,748.9 L483.3,752.9 L483.8,756.9 L484.4,760.8 L484.9,764.8 L485.5,768.7 L486.1,772.7 L486.7,776.7 L487.3,780.6 L487.9,784.6 L488.5,788.5 L489.2,792.5 L489.9,796.4 L490.6,800.4 L491.3,804.3 L492.0,808.3 L492.7,812.2 L493.5,816.2 L494.2,820.1 L495.0,824.1 L495.7,828.0 L496.5,832.0 L497.2,835.9 L497.9,839.9 L498.7,843.8 L499.4,847.8 L500.2,851.7 L500.9,855.7 L501.6,859.6 L502.3,863.5 L503.0,867.5 L503.8,871.4 L504.5,875.4 L505.2,879.3 L505.9,883.3 L506.7,887.2 L507.4,891.1 L508.1,895.1 L508.9,899.0 L509.6,902.9 L510.4,906.9 L511.1,910.8 L511.9,914.7 L512.7,918.7 L513.5,922.6 L514.3,926.5 L515.1,930.4 L515.9,934.3 L516.7,938.2 L517.6,942.1 L518.4,946.0 L519.3,949.9 L520.2,953.8 L521.1,957.7 L522.0,961.6 L523.0,965.5 L524.0,969.4 L524.9,973.2 L525.9,977.1 L527.0,981.0 L528.0,984.8 L529.1,988.7 L530.2,992.5 L531.3,996.4 L532.4,1000.2 L533.6,1004.1 L534.8,1007.9 L536.0,1011.7 L537.3,1015.5 L538.6,1019.3 L539.9,1023.1 L541.2,1026.9 L542.6,1030.7 L544.0,1034.5 L545.4,1038.3 L546.9,1042.1 L548.4,1045.8 L549.9,1049.6 L551.5,1053.4 L553.1,1057.1 L554.8,1060.8 L556.5,1064.4 L558.3,1068.1 L560.2,1071.6 L562.2,1075.1 L564.3,1078.5 L566.4,1081.8 L568.7,1085.1 L571.1,1088.2 L573.6,1091.2 L576.2,1094.1 L579.0,1096.9 L581.9,1099.5 L585.0,1102.0 L588.3,1104.4 L591.6,1106.5 L595.1,1108.6 L598.6,1110.5 L602.3,1112.2 L606.0,1113.9 L609.7,1115.3 L613.5,1116.7 L617.4,1117.9 L621.2,1119.1 L625.1,1120.1 L629.0,1121.2 L632.9,1122.2 L636.8,1123.3 L640.6,1124.3 L644.5,1125.4 L648.3,1126.5 L652.2,1127.6 L656.1,1128.7 L659.9,1129.7 L663.8,1130.8 L667.7,1131.8 L671.6,1132.8 L675.5,1133.7 L679.4,1134.6 L683.3,1135.4 L687.2,1136.3 L691.1,1137.0 L695.1,1137.8 L699.0,1138.5 L703.0,1139.2 L706.9,1139.9 L710.9,1140.5 L714.9,1141.1 L718.8,1141.7 L722.8,1142.2 L726.8,1142.7 L730.8,1143.2 L734.7,1143.7 L738.7,1144.1 L742.7,1144.5 L746.7,1144.9 L750.7,1145.3 L754.7,1145.6 L758.7,1145.9 L762.7,1146.2 L766.7,1146.5 L770.7,1146.8 L774.7,1147.0 L778.7,1147.2 L782.7,1147.4 L786.7,1147.6 L790.7,1147.8 L794.7,1148.0 L798.7,1148.1 L802.7,1148.3 L806.7,1148.4 L810.7,1148.5 L814.7,1148.6 L818.7,1148.7 L822.8,1148.8 L826.8,1148.9 L830.8,1149.0 L834.8,1149.1 L838.8,1149.2 L842.8,1149.2 L846.8,1149.3 L850.9,1149.4 L854.9,1149.4 L858.9,1149.5 L862.9,1149.6 L866.9,1149.6 L870.9,1149.7 L874.9,1149.8 L878.9,1149.9 L883.0,1149.9 L887.0,1150.0 L891.0,1150.1 L895.0,1150.2 L899.0,1150.2 L903.0,1150.3 L907.0,1150.4 L911.0,1150.5 L915.0,1150.6 L919.1,1150.6 L923.1,1150.7 L927.1,1150.8 L931.1,1150.9 L935.1,1151.0 L939.1,1151.0 L943.1,1151.1 L947.1,1151.2 L951.1,1151.3 L955.1,1151.4 L959.1,1151.4 L963.1,1151.5 L967.2,1151.6 L971.2,1151.7 L975.2,1151.8 L979.2,1151.8 L983.2,1151.9 L987.2,1152.0 L991.2,1152.1 L995.2,1152.2 L999.2,1152.2 L1003.2,1152.3 L1007.2,1152.4 L1011.2,1152.5 L1015.3,1152.5 L1019.3,1152.6 L1023.3,1152.7 L1027.3,1152.7 L1031.3,1152.8 L1035.3,1152.9 L1039.3,1152.9 L1043.3,1153.0 L1047.3,1153.1 L1051.3,1153.1 L1055.3,1153.2 L1059.3,1153.3 L1063.4,1153.3 L1067.4,1153.4 L1071.4,1153.4 L1075.4,1153.5 L1079.4,1153.6 L1083.4,1153.6 L1087.4,1153.7 L1091.4,1153.7 L1095.4,1153.8 L1099.4,1153.8 L1103.4,1153.9 L1107.5,1153.9 L1111.5,1154.0 L1115.5,1154.0 L1119.5,1154.1 L1123.5,1154.1 L1127.5,1154.2 L1131.5,1154.2 L1135.5,1154.3 L1139.5,1154.3 L1143.5,1154.4 L1147.6,1154.4 L1151.6,1154.5 L1155.6,1154.5 L1159.6,1154.6 L1163.6,1154.6 L1167.6,1154.7 L1171.6,1154.7 L1175.6,1154.7 L1179.6,1154.8 L1183.6,1154.8 L1187.7,1154.9 L1191.7,1154.9 L1195.7,1154.9 L1199.7,1155.0 L1203.7,1155.0 L1207.7,1155.0 L1211.7,1155.1 L1215.7,1155.1 L1219.7,1155.2 L1223.7,1155.2 L1227.8,1155.2 L1231.8,1155.3 L1235.8,1155.3 L1239.8,1155.3 L1243.8,1155.4 L1247.8,1155.4 L1251.8,1155.4 L1255.8,1155.4 L1259.8,1155.5 L1263.8,1155.5 L1267.9,1155.5 L1271.9,1155.6 L1275.9,1155.6 L1279.9,1155.6 L1283.9,1155.6 L1287.9,1155.7 L1291.9,1155.7 L1295.9,1155.7 L1299.9,1155.8 L1304.0,1155.8 L1308.0,1155.8 L1312.0,1155.8 L1316.0,1155.9 L1320.0,1155.9 L1324.0,1155.9 L1328.0,1155.9 L1332.0,1155.9 L1336.0,1156.0 L1340.1,1156.0 L1344.1,1156.0 L1348.1,1156.0 L1352.1,1156.1 L1356.1,1156.1 L1360.1,1156.1 L1364.1,1156.1 L1368.1,1156.1 L1372.1,1156.2 L1376.1,1156.2 L1380.2,1156.2 L1384.2,1156.2 L1388.2,1156.2 L1392.2,1156.3 L1396.2,1156.3 L1400.2,1156.3 L1404.2,1156.3 L1408.2,1156.3 L1412.2,1156.3 L1416.3,1156.4 L1420.3,1156.4 L1424.3,1156.4 L1428.3,1156.4 L1432.3,1156.4 L1436.3,1156.4 L1440.3,1156.5 L1444.3,1156.5 L1448.3,1156.5 L1452.4,1156.5 L1456.4,1156.5 L1460.4,1156.5 L1464.4,1156.5 L1468.4,1156.6 L1472.4,1156.6 L1476.4,1156.6 L1480.4,1156.6 L1484.4,1156.6 L1488.4,1156.6 L1492.5,1156.6 L1496.5,1156.7 L1500.5,1156.7 L1504.5,1156.7 L1508.5,1156.7 L1512.5,1156.7 L1516.5,1156.7 L1520.5,1156.7 L1524.5,1156.8 L1528.6,1156.8 L1532.6,1156.8 L1536.6,1156.8 L1540.6,1156.8 L1544.6,1156.8 L1548.6,1156.8 L1552.6,1156.9 L1556.6,1156.9 L1560.6,1156.9 L1564.6,1156.9 L1568.7,1156.9 L1572.7,1156.9 L1576.7,1156.9 L1580.7,1157.0 L1584.7,1157.0 L1588.7,1157.0 L1592.7,1157.0 L1596.7,1157.0 L1600.7,1157.0 L1604.8,1157.0 L1608.8,1157.1 L1612.8,1157.1 L1616.8,1157.1 L1620.8,1157.1 L1624.8,1157.1 L1628.8,1157.1 L1632.8,1157.2 L1636.8,1157.2 L1640.8,1157.2 L1644.8,1157.2 L1648.9,1157.2 L1652.9,1157.2 L1656.9,1157.3 L1660.9,1157.3 L1664.9,1157.3 L1668.9,1157.3 L1672.9,1157.3 L1676.9,1157.3 L1680.9,1157.4 L1684.9,1157.4 L1689.0,1157.4 L1693.0,1157.4 L1697.0,1157.4 L1701.0,1157.5 L1705.0,1157.5 L1709.0,1157.5" fill="none" stroke="#424242" stroke-width="7.3" stroke-linejoin="round" stroke-linecap="butt"/>
<path d="M128.9,534.5 L132.5,536.9 L136.1,539.1 L139.8,541.1 L143.6,542.9 L147.5,544.6 L151.4,546.0 L155.3,547.3 L159.3,548.5 L163.4,549.4 L167.4,550.3 L171.5,551.0 L175.7,551.5 L179.8,551.9 L184.0,552.2 L188.2,552.4 L192.4,552.5 L196.6,552.4 L200.8,552.3 L205.0,552.0 L209.2,551.7 L213.4,551.3 L216.9,543.9 L232.0,543.6 L236.0,543.0 L240.0,542.3 L243.9,541.3 L247.7,540.2 L251.5,538.9 L255.2,537.6 L259.0,536.1 L262.7,534.6 L266.3,533.0 L270.0,531.5 L273.7,529.9 L277.3,528.3 L281.0,526.8 L284.7,525.3 L288.4,523.9 L292.1,522.5 L295.9,521.2 L299.6,519.9 L303.4,518.6 L307.2,517.4 L310.9,516.1 L314.7,514.8 L318.5,513.4 L322.2,512.0 L326.0,510.5 L329.7,509.0 L333.4,507.3 L337.2,505.6 L340.9,503.9 L344.6,502.2 L348.3,500.4 L352.0,498.7 L355.7,497.0 L359.4,495.4 L363.1,493.8 L366.9,492.3 L370.6,490.9 L374.4,489.6 L378.2,488.3 L381.9,487.2 L385.7,486.1 L389.5,485.0 L393.4,484.0 L397.2,483.1 L401.0,482.3 L404.9,481.5 L408.7,480.7 L412.6,480.0 L416.5,479.3 L420.4,478.7 L424.3,478.1 L428.2,477.6 L432.2,477.1 L436.1,476.6 L440.1,476.2 L444.1,475.8 L448.0,475.4 L452.0,475.0 L456.0,474.6 L460.1,474.3 L464.1,473.9 L468.1,473.6 L472.2,473.3 L476.3,473.0 L480.4,472.7 L484.5,472.4 L488.5,472.1 L492.6,471.8 L496.7,471.6 L500.8,471.5 L504.9,471.4 L509.0,471.4 L513.0,471.4 L517.0,471.5 L521.1,471.7 L525.0,472.0 L529.0,472.4 L532.9,472.9 L536.8,473.6 L540.7,474.3 L544.5,475.2 L548.2,476.3 L552.0,477.5 L555.6,478.8 L559.3,480.3 L562.8,481.9 L566.4,483.6 L569.9,485.5 L573.3,487.4 L576.7,489.5 L580.1,491.6 L583.4,493.9 L586.7,496.2 L590.0,498.6 L593.2,501.1 L596.3,503.6 L599.5,506.2 L602.6,508.8 L605.6,511.5 L608.6,514.2 L611.6,516.9 L614.6,519.7 L617.5,522.5 L620.4,525.3 L623.3,528.1 L626.1,530.9 L628.9,533.8 L631.7,536.6 L634.5,539.5 L637.2,542.4 L639.9,545.4 L642.6,548.3 L645.3,551.3 L648.0,554.2 L650.7,557.2 L653.3,560.2 L655.9,563.2 L658.5,566.2 L661.2,569.2 L663.8,572.2 L666.3,575.3 L668.9,578.3 L671.5,581.4 L674.1,584.4 L676.7,587.5 L679.3,590.5 L681.9,593.6 L684.4,596.7 L687.0,599.8 L689.6,602.8 L692.1,605.9 L694.7,609.0 L697.2,612.1 L699.8,615.2 L702.3,618.4 L704.8,621.5 L707.4,624.6 L709.9,627.8 L712.4,630.9 L714.9,634.1 L717.3,637.2 L719.8,640.4 L722.2,643.6 L724.7,646.8 L727.1,650.0 L729.5,653.2 L731.9,656.4 L734.3,659.6 L736.6,662.9 L739.0,666.1 L741.3,669.4 L743.6,672.7 L746.0,675.9 L748.3,679.2 L750.5,682.5 L752.8,685.8 L755.1,689.1 L757.3,692.4 L759.6,695.7 L761.8,699.0 L764.1,702.4 L766.3,705.7 L768.5,709.0 L770.7,712.4 L772.9,715.7 L775.1,719.0 L777.3,722.4 L779.5,725.7 L781.7,729.1 L783.9,732.4 L786.1,735.8 L788.3,739.1 L790.5,742.5 L792.7,745.8 L794.8,749.2 L797.0,752.6 L799.2,755.9 L801.4,759.3 L803.6,762.6 L805.8,766.0 L808.0,769.3 L810.2,772.7 L812.4,776.0 L814.6,779.3 L816.8,782.7 L819.0,786.0 L821.3,789.3 L823.5,792.7 L825.7,796.0 L828.0,799.3 L830.2,802.6 L832.5,805.9 L834.8,809.2 L837.1,812.5 L839.4,815.8 L841.7,819.0 L844.0,822.3 L846.4,825.6 L848.7,828.8 L851.1,832.1 L853.5,835.3 L855.9,838.5 L858.3,841.7 L860.7,844.9 L863.1,848.1 L865.6,851.3 L868.1,854.5 L870.6,857.6 L873.1,860.8 L875.6,863.9 L878.2,867.0 L880.7,870.1 L883.3,873.2 L885.9,876.3 L888.6,879.3 L891.2,882.3 L893.9,885.3 L896.6,888.3 L899.3,891.3 L902.1,894.2 L904.8,897.1 L907.6,900.0 L910.4,902.9 L913.3,905.7 L916.2,908.5 L919.0,911.3 L922.0,914.0 L924.9,916.8 L927.9,919.4 L930.9,922.1 L933.9,924.7 L936.9,927.3 L940.0,929.8 L943.1,932.3 L946.3,934.8 L949.4,937.2 L952.6,939.6 L955.9,941.9 L959.1,944.2 L962.4,946.5 L965.7,948.7 L969.1,950.9 L972.4,953.0 L975.9,955.1 L979.3,957.1 L982.8,959.1 L986.3,961.1 L989.8,963.0 L993.3,964.8 L996.9,966.7 L1000.5,968.5 L1004.1,970.2 L1007.7,972.0 L1011.4,973.7 L1015.0,975.3 L1018.7,977.0 L1022.4,978.6 L1026.1,980.2 L1029.8,981.8 L1033.6,983.3 L1037.3,984.8 L1041.0,986.4 L1044.8,987.8 L1048.5,989.3 L1052.3,990.8 L1056.0,992.2 L1059.8,993.6 L1063.5,995.0 L1067.3,996.4 L1071.1,997.8 L1074.9,999.1 L1078.6,1000.5 L1082.4,1001.8 L1086.2,1003.1 L1090.0,1004.4 L1093.8,1005.7 L1097.6,1007.0 L1101.4,1008.3 L1105.2,1009.5 L1109.0,1010.8 L1112.8,1012.0 L1116.6,1013.2 L1120.4,1014.4 L1124.3,1015.6 L1128.1,1016.8 L1131.9,1018.0 L1135.7,1019.2 L1139.6,1020.3 L1143.4,1021.5 L1147.2,1022.6 L1151.1,1023.8 L1154.9,1024.9 L1158.8,1026.0 L1162.6,1027.2 L1166.4,1028.3 L1170.3,1029.4 L1174.1,1030.5 L1178.0,1031.6 L1181.8,1032.7 L1185.7,1033.8 L1189.6,1034.9 L1193.4,1036.0 L1197.3,1037.1 L1201.1,1038.1 L1205.0,1039.2 L1208.8,1040.3 L1212.7,1041.3 L1216.6,1042.4 L1220.4,1043.5 L1224.3,1044.5 L1228.2,1045.6 L1232.0,1046.6 L1235.9,1047.7 L1239.8,1048.7 L1243.7,1049.8 L1247.5,1050.8 L1251.4,1051.8 L1255.3,1052.8 L1259.2,1053.9 L1263.0,1054.9 L1266.9,1055.9 L1270.8,1056.9 L1274.7,1057.9 L1278.6,1058.9 L1282.4,1059.9 L1286.3,1060.9 L1290.2,1061.9 L1294.1,1062.9 L1298.0,1063.9 L1301.9,1064.9 L1305.8,1065.9 L1309.7,1066.9 L1313.5,1067.8 L1317.4,1068.8 L1321.3,1069.8 L1325.2,1070.7 L1329.1,1071.7 L1333.0,1072.7 L1336.9,1073.6 L1340.8,1074.6 L1344.7,1075.5 L1348.6,1076.5 L1352.5,1077.4 L1356.4,1078.3 L1360.3,1079.3 L1364.2,1080.2 L1368.1,1081.1 L1372.0,1082.1 L1375.9,1083.0 L1379.8,1083.9 L1383.7,1084.8 L1387.6,1085.8 L1391.5,1086.7 L1395.4,1087.6 L1399.3,1088.5 L1403.2,1089.4 L1407.1,1090.3 L1411.1,1091.2 L1415.0,1092.1 L1418.9,1093.0 L1422.8,1093.9 L1426.7,1094.8 L1430.6,1095.7 L1434.5,1096.5 L1438.4,1097.4 L1442.3,1098.3 L1446.2,1099.2 L1450.2,1100.1 L1454.1,1100.9 L1458.0,1101.8 L1461.9,1102.7 L1465.8,1103.6 L1469.7,1104.4 L1473.6,1105.3 L1477.5,1106.2 L1481.5,1107.0 L1485.4,1107.9 L1489.3,1108.7 L1493.2,1109.6 L1497.1,1110.5 L1501.0,1111.3 L1505.0,1112.2 L1508.9,1113.0 L1512.8,1113.9 L1516.7,1114.7 L1520.6,1115.6 L1524.5,1116.4 L1528.5,1117.3 L1532.4,1118.1 L1536.3,1119.0 L1540.2,1119.8 L1544.1,1120.7 L1548.1,1121.5 L1552.0,1122.3 L1555.9,1123.2 L1559.8,1124.0 L1563.7,1124.9 L1567.6,1125.7 L1571.6,1126.6 L1575.5,1127.4 L1579.4,1128.2 L1583.3,1129.1 L1587.2,1129.9 L1591.2,1130.8 L1595.1,1131.6 L1599.0,1132.5 L1602.9,1133.3 L1606.8,1134.1 L1610.8,1135.0 L1614.7,1135.8 L1618.6,1136.7 L1622.5,1137.5 L1626.4,1138.4 L1630.4,1139.2 L1634.3,1140.0 L1638.2,1140.9 L1642.1,1141.7 L1646.0,1142.6 L1649.9,1143.4 L1653.9,1144.3 L1657.8,1145.1 L1661.7,1146.0 L1665.6,1146.8 L1669.5,1147.7 L1673.5,1148.5 L1677.4,1149.4 L1681.3,1150.3 L1685.2,1151.1 L1689.1,1152.0 L1693.0,1152.8 L1697.0,1153.7 L1700.9,1154.6 L1704.8,1155.4 L1708.7,1156.3" fill="none" stroke="#038584" stroke-width="7.3" stroke-linejoin="round" stroke-linecap="butt"/>
<line x1="526.2" y1="986" x2="553.3" y2="1146" stroke="#424242" stroke-width="5" stroke-dasharray="14.5 10.2"/>
<line x1="819.6" y1="1041.9" x2="936" y2="1156" stroke="#ff0000" stroke-width="5" stroke-dasharray="12 13.4"/>
<line x1="471" y1="824.5" x2="472" y2="830" stroke="#424242" stroke-width="2.5"/>
<text class="t3" x="129.3" y="1252.8" font-size="71.5" text-anchor="middle" textLength="104" lengthAdjust="spacingAndGlyphs">200</text>
<text class="t3" x="392.7" y="1252.8" font-size="71.5" text-anchor="middle" textLength="104" lengthAdjust="spacingAndGlyphs">300</text>
<text class="t3" x="656.2" y="1252.8" font-size="71.5" text-anchor="middle" textLength="104" lengthAdjust="spacingAndGlyphs">400</text>
<text class="t3" x="919.6" y="1252.8" font-size="71.5" text-anchor="middle" textLength="104" lengthAdjust="spacingAndGlyphs">500</text>
<text class="t3" x="1183.0" y="1252.8" font-size="71.5" text-anchor="middle" textLength="104" lengthAdjust="spacingAndGlyphs">600</text>
<text class="t3" x="1446.5" y="1252.8" font-size="71.5" text-anchor="middle" textLength="104" lengthAdjust="spacingAndGlyphs">700</text>
<text class="t3" x="1709.9" y="1252.8" font-size="71.5" text-anchor="middle" textLength="104" lengthAdjust="spacingAndGlyphs">800</text>
<text class="t1" x="611.1" y="1330.5" font-size="92" textLength="645" lengthAdjust="spacingAndGlyphs">Wavelength(nm)</text>
<text class="t1" transform="translate(85.2,958.5) rotate(-90)" x="0" y="0" font-size="92" textLength="662" lengthAdjust="spacingAndGlyphs">Absorbance(a.u.)</text>
<rect x="1137" y="141.0" width="128.5" height="8" fill="#ff8000"/>
<rect x="1137" y="264.3" width="128.5" height="8" fill="#ff0000"/>
<rect x="1137" y="388.4" width="128.5" height="8" fill="#1868de"/>
<rect x="1137" y="513.0" width="128.5" height="8" fill="#038584"/>
<rect x="1137" y="660.5" width="128.5" height="8" fill="#424242"/>
<text class="t2" x="1274.2" y="164.8" font-size="56" textLength="411.3" lengthAdjust="spacingAndGlyphs">0.8wt% ZIS/BOC</text>
<text class="t2" x="1274.2" y="287.4" font-size="56" textLength="411.3" lengthAdjust="spacingAndGlyphs">0.5wt% ZIS/BOC</text>
<text class="t2" x="1274.2" y="412.1" font-size="56" textLength="411.3" lengthAdjust="spacingAndGlyphs">0.3wt% ZIS/BOC</text>
<text class="t2" x="1273.6" y="536.1" font-size="55">ZnIn</text>
<text class="t2" x="1390.4" y="553" font-size="39">2</text>
<text class="t2" x="1409.4" y="536.1" font-size="55">S</text>
<text class="t2" x="1439.9" y="553" font-size="39">4</text>
<text class="t2" x="1275.6" y="682.8" font-size="55" textLength="143.2" lengthAdjust="spacingAndGlyphs">BiOCl</text>
</svg>
</body></html>
